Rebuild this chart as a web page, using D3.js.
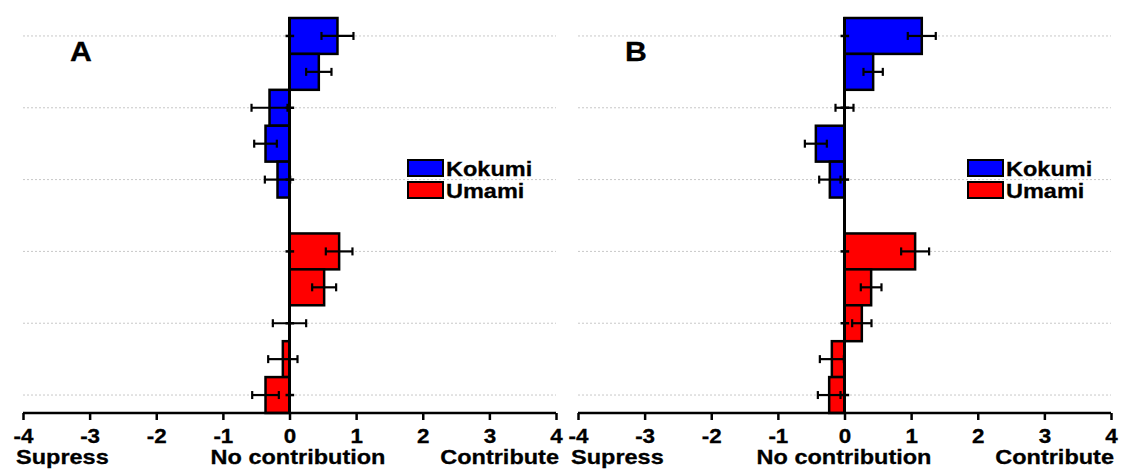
<!DOCTYPE html>
<html>
<head>
<meta charset="utf-8">
<script src="https://cdn.jsdelivr.net/npm/d3@7"></script>
<style>
  body { margin: 0; background: #fff; }
  svg { display: block; font-family: "Liberation Sans", Arial, sans-serif; }
</style>
</head>
<body>
<svg width="1123" height="471"></svg>
<script>
// rows from top to bottom, one empty row between the two groups
var rows = ["K1", "K2", "K3", "K4", "K5", "gap", "U1", "U2", "U3", "U4", "U5"];
var rowSeries = ["Kokumi", "Kokumi", "Kokumi", "Kokumi", "Kokumi", null,
                 "Umami", "Umami", "Umami", "Umami", "Umami"];

// panel A
var valuesA = [0.72, 0.44, -0.30, -0.36, -0.18, null, 0.745, 0.52, 0.0, -0.10, -0.36];
var errorsA = [0.24, 0.19, 0.27, 0.17, 0.19, null, 0.20, 0.18, 0.25, 0.22, 0.20];

// panel B
var valuesB = [1.16, 0.43, 0.0, -0.43, -0.22, null, 1.06, 0.40, 0.26, -0.19, -0.23];
var errorsB = [0.21, 0.145, 0.135, 0.165, 0.16, null, 0.21, 0.155, 0.145, 0.18, 0.17];

// small marks sitting on the zero line at the dotted rows
var gridRows = ["K1", "K3", "K5", "U1", "U3", "U5"];
var zeroTick = [-0.06, 0.07];

var ticks = [-4, -3, -2, -1, 0, 1, 2, 3, 4];
var seriesNames = ["Kokumi", "Umami"];
var seriesColors = ["#0000ff", "#ff0000"];

var stretch = 1.12;   // the original figure is a bit wide
var color = d3.scaleOrdinal().domain(seriesNames).range(seriesColors);
var svg = d3.select("svg");

function label(g, x, y, txt, size, anchor) {
  g.append("text")
    .attr("transform", "translate(" + x + "," + y + ") scale(" + stretch + ",1)")
    .attr("font-size", size)
    .attr("font-weight", "bold")
    .attr("text-anchor", anchor)
    .attr("fill", "#000")
    .attr("stroke", "#000")
    .attr("stroke-width", 0.3)
    .text(txt);
}

var panels = [
  {name: "A", values: valuesA, errors: errorsA, x0: 23, x1: 556, letterX: 70,
   legendX: 408, midX: 298},
  {name: "B", values: valuesB, errors: errorsB, x0: 578, x1: 1111, letterX: 625,
   legendX: 968, midX: 844}
];

panels.forEach(function(p) {
  var g = svg.append("g");

  var x = d3.scaleLinear().domain([-4, 4]).range([p.x0, p.x1]);
  var y = d3.scaleBand().domain(rows).range([18, 413]).padding(0);

  var data = rows.map(function(r, i) {
    return {row: r, series: rowSeries[i], value: p.values[i], err: p.errors[i]};
  }).filter(function(d) { return d.value != null; });

  // dotted grid
  g.selectAll(".grid")
    .data(gridRows)
    .enter().append("line")
      .attr("x1", x(-4))
      .attr("x2", x(4))
      .attr("y1", function(d) { return y(d) + y.bandwidth() / 2; })
      .attr("y2", function(d) { return y(d) + y.bandwidth() / 2; })
      .attr("stroke", "#c8c8c8")
      .attr("stroke-width", 1)
      .attr("stroke-dasharray", "2,2");

  // bars
  g.selectAll(".bar")
    .data(data)
    .enter().append("rect")
      .attr("x", function(d) { return x(Math.min(0, d.value)); })
      .attr("y", function(d) { return y(d.row); })
      .attr("width", function(d) { return Math.abs(x(d.value) - x(0)); })
      .attr("height", y.bandwidth())
      .attr("fill", function(d) { return color(d.series); })
      .attr("stroke", "#000")
      .attr("stroke-width", 2.5);

  // error bars
  var eb = g.selectAll(".err")
    .data(data)
    .enter().append("g")
      .attr("transform", function(d) { return "translate(0," + (y(d.row) + y.bandwidth() / 2) + ")"; })
      .attr("stroke", "#000")
      .attr("stroke-width", 2.2);
  eb.append("line")
    .attr("x1", function(d) { return x(d.value - d.err); })
    .attr("x2", function(d) { return x(d.value + d.err); });
  eb.append("line")
    .attr("x1", function(d) { return x(d.value - d.err); })
    .attr("x2", function(d) { return x(d.value - d.err); })
    .attr("y1", -4).attr("y2", 4);
  eb.append("line")
    .attr("x1", function(d) { return x(d.value + d.err); })
    .attr("x2", function(d) { return x(d.value + d.err); })
    .attr("y1", -4).attr("y2", 4);

  // short marks on the zero line
  g.selectAll(".ztick")
    .data(gridRows)
    .enter().append("line")
      .attr("x1", x(zeroTick[0]))
      .attr("x2", x(zeroTick[1]))
      .attr("y1", function(d) { return y(d) + y.bandwidth() / 2; })
      .attr("y2", function(d) { return y(d) + y.bandwidth() / 2; })
      .attr("stroke", "#000")
      .attr("stroke-width", 2.5);

  // zero line
  g.append("line")
    .attr("x1", x(0)).attr("x2", x(0))
    .attr("y1", 17).attr("y2", 413)
    .attr("stroke", "#000")
    .attr("stroke-width", 3);

  // x axis
  var ax = g.append("g")
    .attr("transform", "translate(0,413)")
    .call(d3.axisBottom(x).tickValues(ticks).tickSize(7).tickPadding(9)
      .tickFormat(function(d) { return String(d); }));
  ax.select(".domain").attr("stroke-width", 2.5).attr("d", "M" + x(-4) + ",0H" + x(4));
  ax.selectAll(".tick line").attr("stroke-width", 2.5);
  ax.selectAll(".tick text")
    .attr("font-size", 20)
    .attr("font-weight", "bold")
    .attr("font-family", "Liberation Sans, Arial, sans-serif")
    .attr("fill", "#000")
    .attr("stroke", "#000")
    .attr("stroke-width", 0.3)
    .attr("transform", "scale(" + stretch + ",1)");

  label(g, p.x0 - 7, 464, "Supress", 21, "start");
  label(g, p.midX, 464, "No contribution", 21, "middle");
  label(g, p.x1 + 3, 464, "Contribute", 21, "end");

  label(g, p.letterX, 61, p.name, 27, "start");

  // legend
  var legend = g.selectAll(".legend")
    .data(seriesNames)
    .enter().append("g")
      .attr("transform", function(d, i) { return "translate(" + p.legendX + "," + (160 + i * 22) + ")"; });
  legend.append("rect")
    .attr("width", 35)
    .attr("height", 16)
    .attr("fill", color)
    .attr("stroke", "#000")
    .attr("stroke-width", 2);
  legend.each(function(d) {
    label(d3.select(this), 38, 16, d, 21, "start");
  });
});
</script>
</body>
</html>
